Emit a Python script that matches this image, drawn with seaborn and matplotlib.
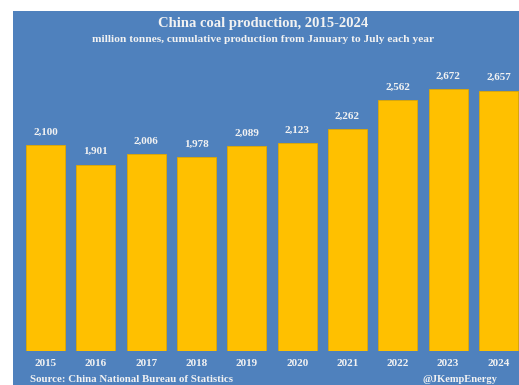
import matplotlib
matplotlib.use("Agg")
import matplotlib.pyplot as plt
import seaborn as sns
import pandas as pd
from matplotlib.patches import Rectangle

years = ["2015", "2016", "2017", "2018", "2019", "2020", "2021", "2022", "2023", "2024"]
production = [2100, 1901, 2006, 1978, 2089, 2123, 2262, 2562, 2672, 2657]
title = "China coal production, 2015-2024"
subtitle = "million tonnes, cumulative production from January to July each year"
source = "Source: China National Bureau of Statistics"
credit = "@JKempEnergy"

df = pd.DataFrame({"year": years, "production": production})

sns.set_theme(style="white")
plt.rcParams["font.family"] = ["Liberation Serif", "DejaVu Serif"]

W, H = 519, 385
fig = plt.figure(figsize=(W / 100, H / 100), dpi=100)
fig.patch.set_facecolor("white")
blue = "#4F81BD"
fig.patches.append(Rectangle((13 / W, 0), 1 - 13 / W, (H - 11) / H,
                             transform=fig.transFigure, facecolor=blue,
                             edgecolor="none", zorder=-10))

ax = fig.add_axes([13 / W, 34 / H, (W - 13) / W, (H - 11 - 34) / H])
ax.set_facecolor("none")
ax.set_zorder(1)
sns.barplot(data=df, x="year", y="production", color="#FFC000", saturation=1,
            width=0.78, edgecolor="#E0A800", linewidth=0.6, ax=ax)
ax.set_xlim(-0.646, 9.408)
ax.set_ylim(0, 340 * 10.2)
for s in ax.spines.values():
    s.set_visible(False)
ax.set_yticks([])
ax.set_xlabel("")
ax.set_ylabel("")
ax.tick_params(axis="x", length=0, pad=6, labelsize=8, labelcolor="#F2F2F2")
for lbl in ax.get_xticklabels():
    lbl.set_fontweight("bold")

for i, v in enumerate(production):
    ax.annotate(f"{v:,}", (i, v), xytext=(0, 6), textcoords="offset points",
                ha="center", va="bottom", fontsize=8, fontweight="bold",
                color="#F2F2F2")

cx = 263 / W
fig.text(cx, 1 - 23 / H, title, ha="center", va="center", fontsize=10.5,
         fontweight="bold", color="#F2F2F2")
fig.text(cx, 1 - 40 / H, subtitle, ha="center", va="center", fontsize=8.2,
         fontweight="bold", color="#F2F2F2")
fig.text(30 / W, 1 / H, source, ha="left", va="bottom", fontsize=7.8,
         fontweight="bold", color="#F2F2F2")
fig.text(497 / W, 1 / H, credit, ha="right", va="bottom", fontsize=7.6,
         fontweight="bold", color="#F2F2F2")

fig.savefig("out.png", dpi=100)
